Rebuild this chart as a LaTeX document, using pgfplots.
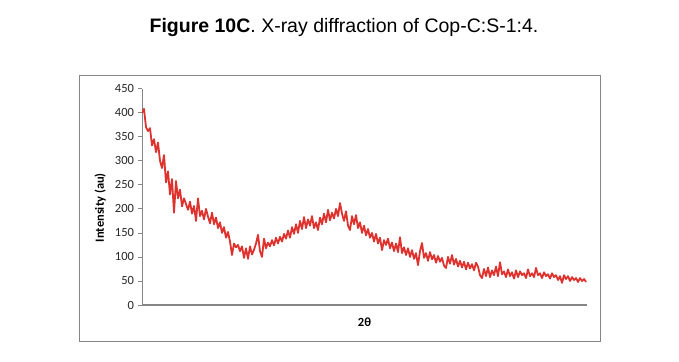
\documentclass[border=0pt]{standalone}
\usepackage{pgfplots}
\pgfplotsset{compat=1.18}
\usepackage{fontspec}
\setmainfont{Carlito}
\newfontfamily\titlefont{Liberation Sans}
\definecolor{xrdred}{RGB}{222,50,46}
\definecolor{axgray}{RGB}{134,134,134}
\begin{document}
\begin{tikzpicture}[x=1bp,y=1bp]
\path[use as bounding box] (0,0) rectangle (679,361);
\draw[axgray, line width=0.8bp] (79.5,20) rectangle (600,286);
\node[font=\titlefont\fontsize{19.5bp}{22bp}\selectfont] at (344,333) {\textbf{Figure 10C}. X-ray diffraction of Cop-C:S-1:4.};
\begin{axis}[
  at={(142bp,56bp)}, anchor=south west,
  width=445bp, height=216.3bp, scale only axis,
  xmin=0, xmax=445, ymin=0, ymax=450,
  axis x line*=bottom, axis y line*=left,
  x axis line style={axgray, line width=2bp, -},
  y axis line style={axgray, line width=0.8bp, -},
  xtick=\empty, ytick={0,50,...,450},
  tick align=outside, major tick length=4.5bp,
  tick style={axgray, line width=0.8bp},
  yticklabel style={font=\fontsize{12.5bp}{14bp}\selectfont, text=black!85},
  /pgf/number format/assume math mode=true,
  ylabel={\textbf{Intensity (au)}},
  ylabel style={font=\fontsize{12.5bp}{14bp}\selectfont, at={(axis description cs:-0.094,0.45)}, anchor=center},
  xlabel={\textbf{2θ}},
  xlabel style={font=\fontsize{12.5bp}{14bp}\selectfont, at={(axis description cs:0.5,-0.079)}, anchor=center},
]
\addplot[xrdred, line width=1.8bp, mark=none, line join=round] table {
x y
0 400
2 408
4 370
6 362
8 368
10 332
12 345
14 318
16 338
18 300
20 285
22 312
24 255
26 278
28 230
30 262
32 192
34 258
36 222
38 240
40 205
42 222
44 210
46 198
48 215
50 190
52 206
54 175
56 222
58 185
60 196
62 178
64 200
66 184
68 170
70 192
72 168
74 182
76 160
78 172
80 150
82 162
84 140
86 152
88 132
90 104
92 128
94 120
96 125
98 112
100 122
102 98
104 118
106 96
108 122
110 105
112 115
114 128
116 146
118 112
120 100
122 138
124 118
126 130
128 122
130 135
132 124
134 140
136 128
138 142
140 132
142 148
144 138
146 155
148 140
150 162
152 148
154 168
156 150
158 175
160 158
162 183
164 160
166 178
168 165
170 185
172 160
174 172
176 156
178 182
180 168
182 190
184 172
186 198
188 176
190 192
192 180
194 200
196 185
198 212
200 190
202 175
204 195
206 165
208 156
210 185
212 168
214 187
216 160
218 172
220 150
222 165
224 145
226 158
228 140
230 150
232 132
234 148
236 128
238 140
240 114
242 135
244 125
246 138
248 118
250 130
252 112
254 128
256 110
258 141
260 108
262 120
264 104
266 118
268 100
270 114
272 96
274 108
276 83
278 112
280 129
282 98
284 108
286 92
288 110
290 95
292 104
294 88
296 102
298 90
300 98
302 82
304 77
306 100
308 86
310 104
312 84
314 96
316 80
318 92
320 78
322 90
324 74
326 88
328 76
330 85
332 72
334 88
336 80
338 62
340 56
342 75
344 60
346 78
348 58
350 72
352 62
354 80
356 60
358 89
360 64
362 70
364 58
366 74
368 60
370 68
372 55
374 72
376 58
378 70
380 62
382 66
384 56
386 74
388 60
390 66
392 58
394 77
396 62
398 66
400 56
402 68
404 60
406 64
408 55
410 66
412 58
414 62
416 52
418 60
420 46
422 62
424 54
426 60
428 50
430 58
432 52
434 56
436 48
438 56
440 50
442 54
444 48
};
\end{axis}
\end{tikzpicture}
\end{document}
